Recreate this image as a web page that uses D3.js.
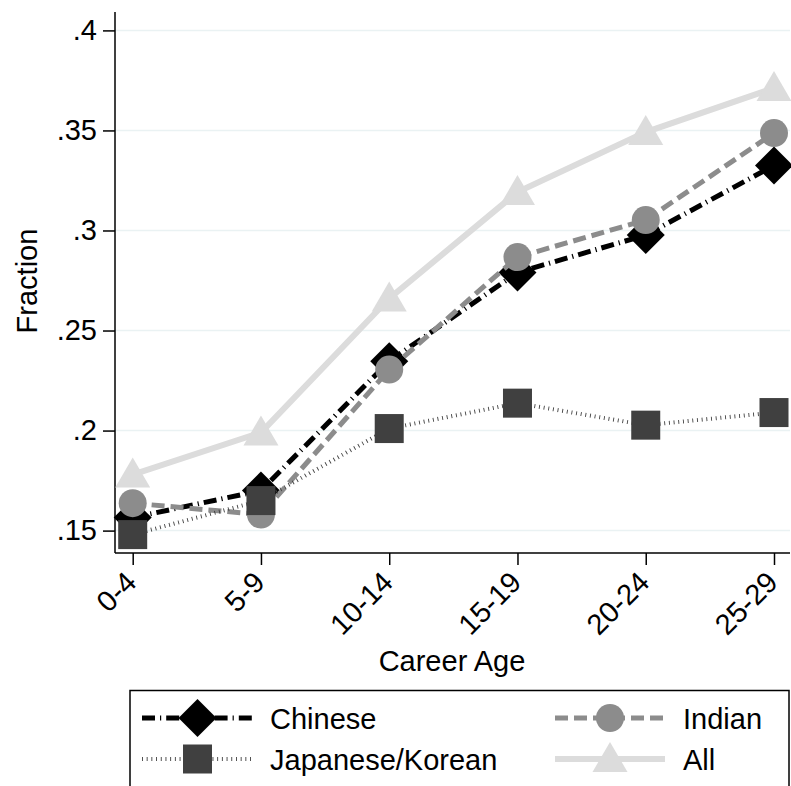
<!DOCTYPE html>
<html><head><meta charset="utf-8">
<script src="https://cdn.jsdelivr.net/npm/d3@7"></script>
<style>body{margin:0;background:#fff}svg{display:block}text{font-family:"Liberation Sans",Arial,sans-serif}</style>
</head><body>
<script>
const categories = ["0-4","5-9","10-14","15-19","20-24","25-29"];
const chinese = [0.1565, 0.170, 0.2347, 0.279, 0.2977, 0.3325];
const indian = [0.1637, 0.158, 0.2305, 0.2867, 0.3052, 0.3487];
const japaneseKorean = [0.148, 0.165, 0.201, 0.2137, 0.2027, 0.2090];
const all = [0.178, 0.199, 0.266, 0.3192, 0.3492, 0.3712];
const yTicks = [0.15, 0.2, 0.25, 0.3, 0.35, 0.4];
const yTickLabels = [".15", ".2", ".25", ".3", ".35", ".4"];

const W = 791, H = 786;
const FS = 29;
const svg = d3.select("body").append("svg").attr("width", W).attr("height", H);

const x = d3.scalePoint().domain(categories).range([132.7, 774]);
const y = d3.scaleLinear().domain([0.15, 0.4]).range([530.6, 30.4]);
const plotL = 115, plotR = 790, plotT = 12, plotB = 553;

// gridlines
svg.append("g").selectAll("line").data(yTicks).join("line")
  .attr("x1", plotL).attr("x2", plotR)
  .attr("y1", d => y(d)).attr("y2", d => y(d))
  .attr("stroke", "#eaf2f3").attr("stroke-width", 1.5);

// axes
const yAxis = d3.axisLeft(y).tickValues(yTicks).tickFormat((d, i) => yTickLabels[i]).tickSize(12).tickPadding(6);
const gy = svg.append("g").attr("transform", `translate(${plotL},0)`).call(yAxis);
gy.attr("font-size", FS).attr("font-family", null);
gy.select(".domain").attr("d", `M0,${plotT}V${plotB}`).attr("stroke", "#000").attr("stroke-width", 1.5);
gy.selectAll(".tick line").attr("stroke", "#000").attr("stroke-width", 1.5);
gy.selectAll(".tick text").attr("fill", "#000");

const xAxis = d3.axisBottom(x).tickSize(12).tickPadding(4);
const gx = svg.append("g").attr("transform", `translate(0,${plotB})`).call(xAxis);
gx.attr("font-size", FS).attr("font-family", null);
gx.select(".domain").attr("d", `M${plotL},0H${plotR}`).attr("stroke", "#000").attr("stroke-width", 1.5);
gx.selectAll(".tick line").attr("stroke", "#000").attr("stroke-width", 1.5);
gx.selectAll(".tick text").attr("fill", "#000")
  .attr("text-anchor", "end").attr("dy", 0).attr("y", 0).attr("x", 0)
  .attr("transform", "translate(5,31) rotate(-45)");

// axis titles
svg.append("text").attr("x", 452).attr("y", 671).attr("text-anchor", "middle")
  .attr("font-size", FS).text("Career Age");
svg.append("text").attr("transform", "translate(37,281) rotate(-90)").attr("text-anchor", "middle")
  .attr("font-size", FS).text("Fraction");

const series = [
  {name: "Chinese", values: chinese, color: "#000", width: 5, dash: "13,5,1.2,5", symbol: "diamond", fill: "#000"},
  {name: "Indian", values: indian, color: "#8c8c8c", width: 5, dash: "13,6", symbol: "circle", fill: "#8c8c8c"},
  {name: "Japanese/Korean", values: japaneseKorean, color: "#404040", width: 4, dash: "0.9,3.8", symbol: "square", fill: "#404040"},
  {name: "All", values: all, color: "#dcdcdc", width: 6, dash: null, symbol: "triangle", fill: "#dcdcdc"}
];

function marker(sel, type, fill) {
  if (type === "diamond") sel.append("path").attr("d", "M0,-19L19,0L0,19L-19,0Z").attr("fill", fill);
  else if (type === "circle") sel.append("circle").attr("r", 14).attr("fill", fill);
  else if (type === "square") sel.append("rect").attr("x", -14.5).attr("y", -14.5).attr("width", 29).attr("height", 29).attr("fill", fill);
  else if (type === "triangle") sel.append("path").attr("d", "M0,-17L17.5,13L-17.5,13Z").attr("fill", fill);
}

const line = d3.line().x((d, i) => x(categories[i])).y(d => y(d));
series.forEach(s => {
  const g = svg.append("g");
  g.append("path").attr("d", line(s.values)).attr("fill", "none")
    .attr("stroke", s.color).attr("stroke-width", s.width)
    .attr("stroke-dasharray", s.dash);
  s.values.forEach((v, i) => {
    const m = g.append("g").attr("transform", `translate(${x(categories[i])},${y(v)})`);
    marker(m, s.symbol, s.fill);
  });
});

// legend
const lg = svg.append("g");
lg.append("rect").attr("x", 130).attr("y", 690.5).attr("width", 659).attr("height", 120)
  .attr("fill", "#fff").attr("stroke", "#000").attr("stroke-width", 1.5);
const legPos = [
  {s: series[0], lx: 142, rx: 253, ty: 718, tx: 270},
  {s: series[1], lx: 555, rx: 665, ty: 718, tx: 683},
  {s: series[2], lx: 142, rx: 253, ty: 759, tx: 270},
  {s: series[3], lx: 555, rx: 665, ty: 759, tx: 683}
];
legPos.forEach(p => {
  const s = p.s;
  lg.append("line").attr("x1", p.lx).attr("x2", p.rx).attr("y1", p.ty).attr("y2", p.ty)
    .attr("stroke", s.color).attr("stroke-width", s.width).attr("stroke-dasharray", s.dash);
  const m = lg.append("g").attr("transform", `translate(${(p.lx + p.rx) / 2},${p.ty})`);
  marker(m, s.symbol, s.fill);
  lg.append("text").attr("x", p.tx).attr("y", p.ty + 10.5).attr("font-size", FS).text(s.name);
});
</script>
</body></html>
